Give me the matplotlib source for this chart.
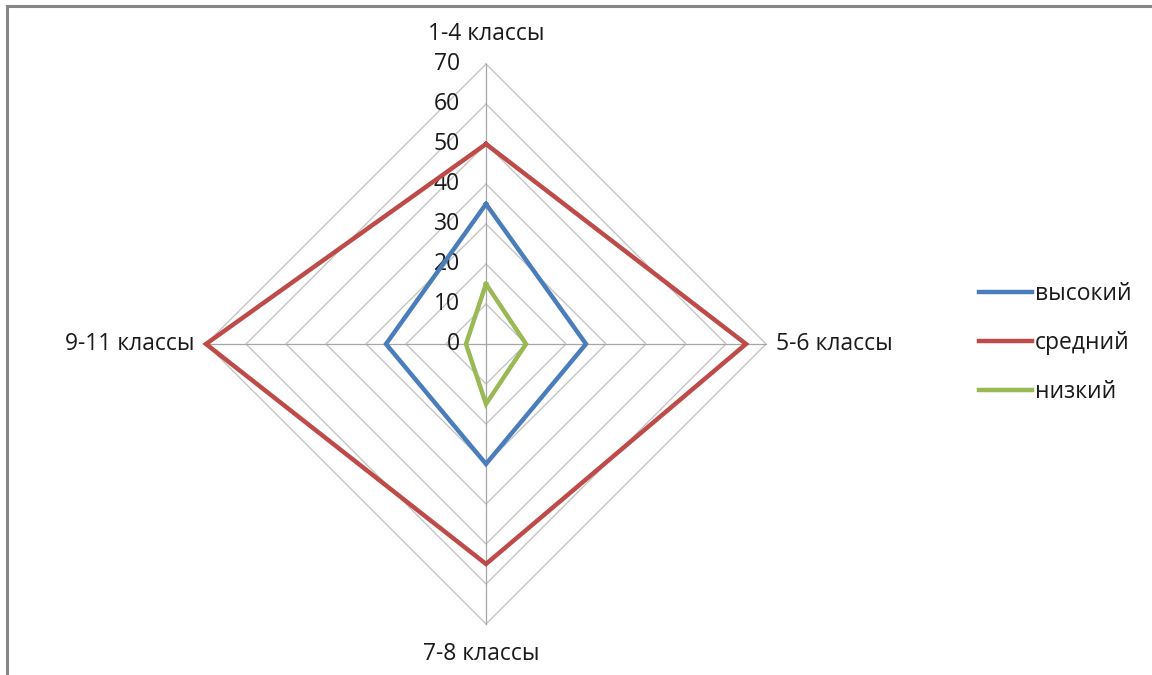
import numpy as np
import matplotlib.pyplot as plt
from matplotlib.lines import Line2D

plt.rcParams['font.family'] = ['Open Sans', 'DejaVu Sans']

categories = ['1-4 классы', '5-6 классы', '7-8 классы', '9-11 классы']
series_names = ['высокий', 'средний', 'низкий']
vysokiy = [35, 25, 30, 25]
sredniy = [50, 65, 55, 70]
nizkiy = [15, 10, 15, 5]
ticks = [0, 10, 20, 30, 40, 50, 60, 70]
colours = ['#4a7ebb', '#be4b48', '#98b954']
fs = 16.5

# angles: first category on top, then clockwise
ang = np.pi / 2 - np.arange(len(categories)) * 2 * np.pi / len(categories)


def xy(vals):
    v = np.array(list(vals) + [vals[0]], dtype=float)
    a = np.append(ang, ang[0])
    return v * np.cos(a), v * np.sin(a)


fig = plt.figure(figsize=(11.52, 6.75), dpi=100)
ax = fig.add_axes([0, 0, 1, 1])
# 4 px per unit, centre at (486, 344) px
ax.set_xlim(-486 / 4, (1152 - 486) / 4)
ax.set_ylim(-(675 - 344) / 4, 344 / 4)
ax.axis('off')

# frame of the chart area (top and left visible)
fig.add_artist(Line2D([7 / 1152, 7 / 1152], [0, 1 - 6 / 675], color='#878787', lw=2.2))
fig.add_artist(Line2D([7 / 1152, 1], [1 - 6 / 675, 1 - 6 / 675], color='#878787', lw=2.2))

# grid
for t in ticks[1:]:
    gx, gy = xy([t] * len(categories))
    ax.plot(gx, gy, color='#c0c0c0', lw=0.9, zorder=1)
for a in ang:
    ax.plot([0, ticks[-1] * np.cos(a)], [0, ticks[-1] * np.sin(a)], color='#a6a6a6', lw=0.9, zorder=1)

# series
for vals, name, c in zip([vysokiy, sredniy, nizkiy], series_names, colours):
    sx, sy = xy(vals)
    ax.plot(sx, sy, color=c, lw=3.2, label=name, zorder=3, solid_joinstyle='miter')

# radial tick labels
for t in ticks:
    ax.text(-6.5, t, str(t), ha='right', va='center', fontsize=fs, color='#1a1a1a', zorder=2)

# category labels
ax.text(0, 77.5, categories[0], ha='center', va='center', fontsize=fs, color='#1a1a1a')
ax.text(72.5, 0, categories[1], ha='left', va='center', fontsize=fs, color='#1a1a1a')
ax.text(-1.2, -77.5, categories[2], ha='center', va='center', fontsize=fs, color='#1a1a1a')
ax.text(-72.8, 0, categories[3], ha='right', va='center', fontsize=fs, color='#1a1a1a')

leg = ax.legend(loc='center left', bbox_to_anchor=(970 / 1152, 1 - 343 / 675), frameon=False,
                fontsize=fs, handlelength=2.3, handletextpad=0.12, labelspacing=1.07,
                borderaxespad=0)
for txt in leg.get_texts():
    txt.set_color('#1a1a1a')

fig.savefig('out.png', dpi=100)
